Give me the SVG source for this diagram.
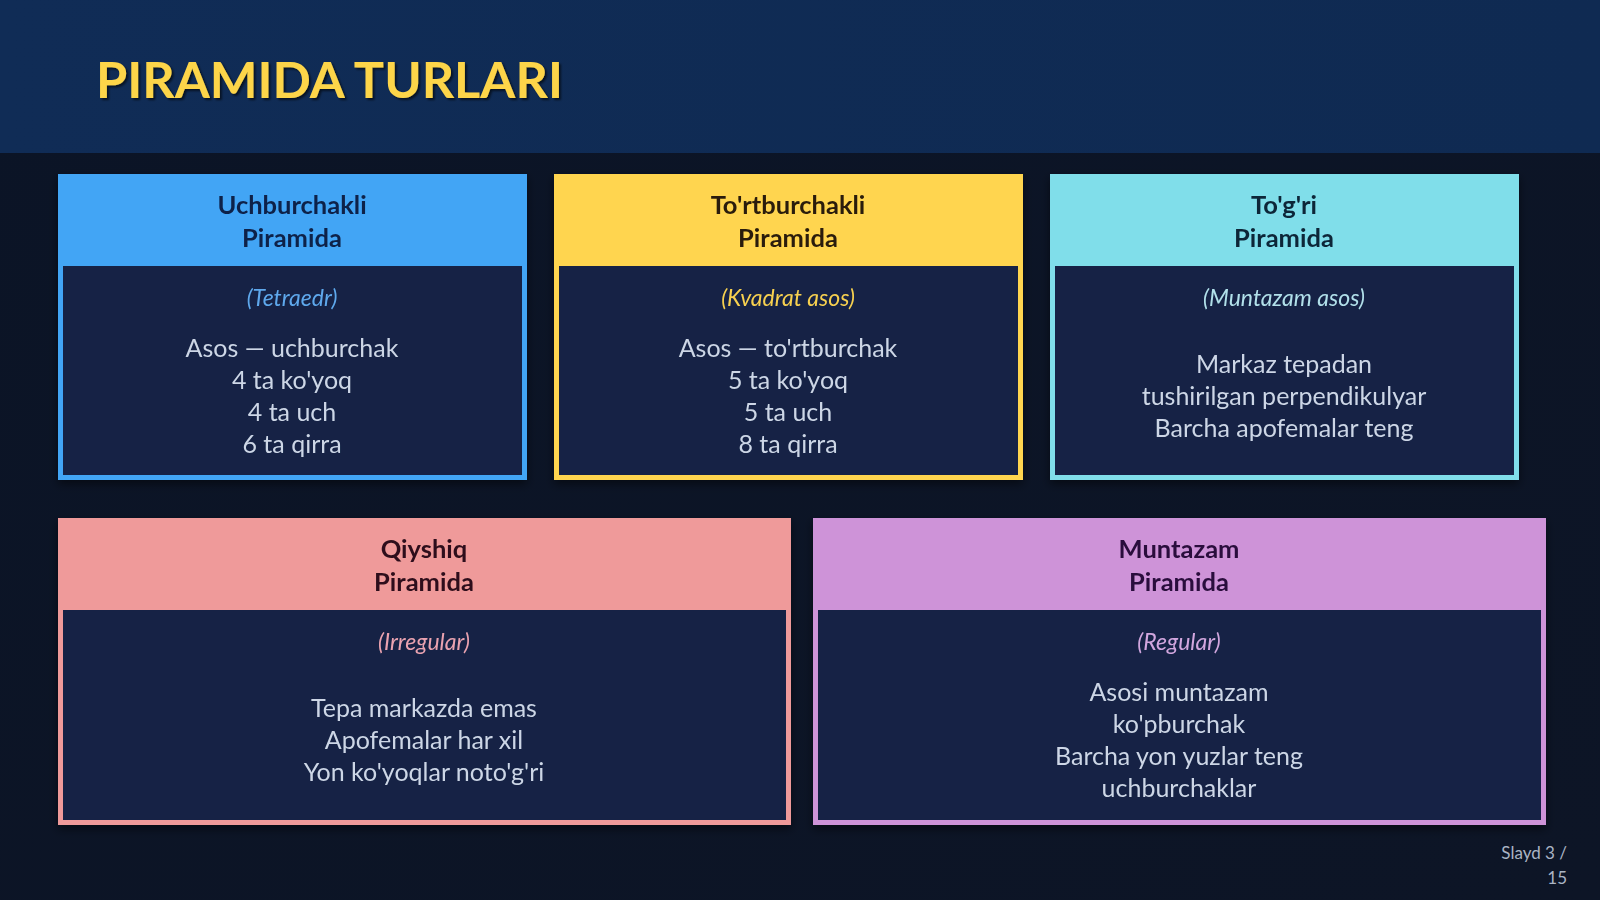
<svg xmlns="http://www.w3.org/2000/svg" width="1600" height="900" viewBox="0 0 1600 900">
<defs>
<linearGradient id="hdr" x1="0" y1="0" x2="1" y2="0">
<stop offset="0" stop-color="#102c56"/>
<stop offset="1" stop-color="#0f2a52"/>
</linearGradient>
<linearGradient id="bg" x1="0" y1="0" x2="1" y2="1">
<stop offset="0" stop-color="#0b1426"/>
<stop offset="1" stop-color="#0d1526"/>
</linearGradient>
<filter id="sh" x="-5%" y="-5%" width="110%" height="115%">
<feDropShadow dx="0" dy="4" stdDeviation="5" flood-color="#000" flood-opacity="0.5"/>
</filter>
<filter id="tsh" x="-5%" y="-20%" width="110%" height="140%">
<feDropShadow dx="2" dy="2" stdDeviation="1" flood-color="#000" flood-opacity="0.6"/>
</filter>
</defs>
<style>
.t{font-family:Lato,"Liberation Sans",sans-serif;text-anchor:middle}
.h{font-size:25.5px;font-weight:bold}
.s{font-size:23px;font-style:italic}
.b{font-size:25px;fill:#cdd6e6}
.body{fill:#142345}
</style>
<rect width="1600" height="900" fill="url(#bg)"/>
<rect width="1600" height="153" fill="url(#hdr)"/>
<text x="96" y="98" font-family="Lato,'Liberation Sans',sans-serif" font-size="50.5" font-weight="bold" fill="#fdd54a" filter="url(#tsh)">PIRAMIDA TURLARI</text>

<g id="box1" filter="url(#sh)">
<rect x="58" y="174" width="469" height="306" fill="#42a5f5"/>
<rect x="63" y="266" width="459" height="209" class="body"/>
<text class="t h" x="292" y="214" fill="#0f2148">Uchburchakli</text>
<text class="t h" x="292" y="247" fill="#0f2148">Piramida</text>
<text class="t s" x="292" y="306" fill="#5fa8ec">(Tetraedr)</text>
<text class="t b" x="292" y="357">Asos — uchburchak</text>
<text class="t b" x="292" y="389">4 ta ko'yoq</text>
<text class="t b" x="292" y="421">4 ta uch</text>
<text class="t b" x="292" y="453">6 ta qirra</text>
</g>

<g id="box2" filter="url(#sh)">
<rect x="554" y="174" width="469" height="306" fill="#ffd54f"/>
<rect x="559" y="266" width="459" height="209" class="body"/>
<text class="t h" x="788" y="214" fill="#2a1d0a">To'rtburchakli</text>
<text class="t h" x="788" y="247" fill="#2a1d0a">Piramida</text>
<text class="t s" x="788" y="306" fill="#f7d050">(Kvadrat asos)</text>
<text class="t b" x="788" y="357">Asos — to'rtburchak</text>
<text class="t b" x="788" y="389">5 ta ko'yoq</text>
<text class="t b" x="788" y="421">5 ta uch</text>
<text class="t b" x="788" y="453">8 ta qirra</text>
</g>

<g id="box3" filter="url(#sh)">
<rect x="1050" y="174" width="469" height="306" fill="#80deea"/>
<rect x="1055" y="266" width="459" height="209" class="body"/>
<text class="t h" x="1284" y="214" fill="#0c2638">To'g'ri</text>
<text class="t h" x="1284" y="247" fill="#0c2638">Piramida</text>
<text class="t s" x="1284" y="306" fill="#b2e0ea">(Muntazam asos)</text>
<text class="t b" x="1284" y="373">Markaz tepadan</text>
<text class="t b" x="1284" y="405">tushirilgan perpendikulyar</text>
<text class="t b" x="1284" y="437">Barcha apofemalar teng</text>
</g>

<g id="box4" filter="url(#sh)">
<rect x="58" y="518" width="733" height="307" fill="#ef9a9a"/>
<rect x="63" y="610" width="723" height="210" class="body"/>
<text class="t h" x="424" y="558" fill="#2e0f1a">Qiyshiq</text>
<text class="t h" x="424" y="591" fill="#2e0f1a">Piramida</text>
<text class="t s" x="424" y="650" fill="#eaa2b0">(Irregular)</text>
<text class="t b" x="424" y="717">Tepa markazda emas</text>
<text class="t b" x="424" y="749">Apofemalar har xil</text>
<text class="t b" x="424" y="781">Yon ko'yoqlar noto'g'ri</text>
</g>

<g id="box5" filter="url(#sh)">
<rect x="813" y="518" width="733" height="307" fill="#ce93d8"/>
<rect x="818" y="610" width="723" height="210" class="body"/>
<text class="t h" x="1179" y="558" fill="#2a0f3c">Muntazam</text>
<text class="t h" x="1179" y="591" fill="#2a0f3c">Piramida</text>
<text class="t s" x="1179" y="650" fill="#d2a6de">(Regular)</text>
<text class="t b" x="1179" y="701">Asosi muntazam</text>
<text class="t b" x="1179" y="733">ko'pburchak</text>
<text class="t b" x="1179" y="765">Barcha yon yuzlar teng</text>
<text class="t b" x="1179" y="797">uchburchaklar</text>
</g>

<g id="connectors"></g>

<g id="footer" font-family="Lato,'Liberation Sans',sans-serif" font-size="17" fill="#aab4c4" text-anchor="end">
<text x="1567" y="859">Slayd 3 /</text>
<text x="1567" y="884">15</text>
</g>
</svg>
